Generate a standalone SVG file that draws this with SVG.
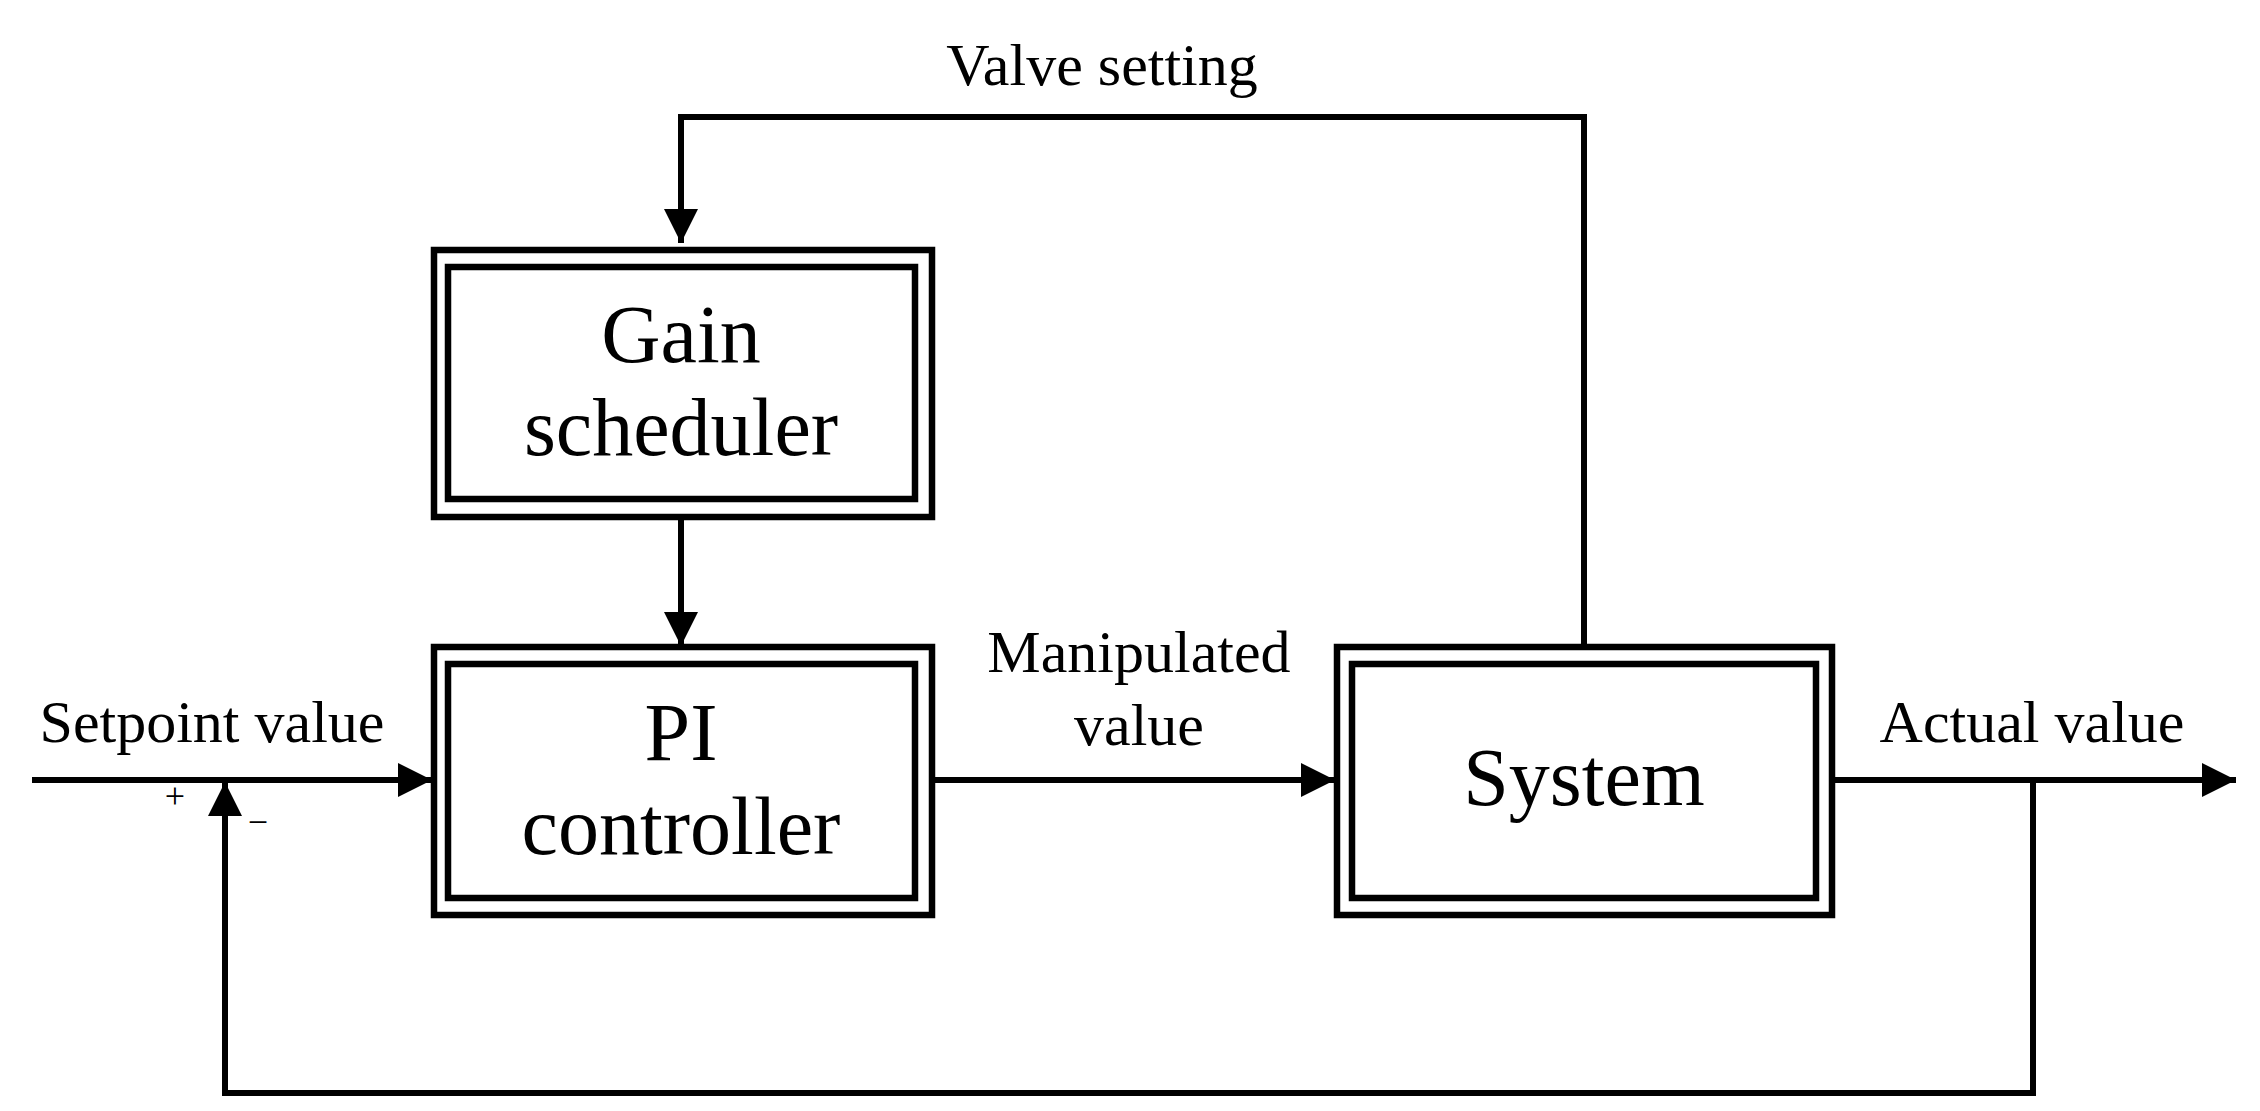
<svg xmlns="http://www.w3.org/2000/svg" width="2260" height="1111" viewBox="0 0 2260 1111">
<style>
.b{fill:none;stroke:#000;stroke-width:6.5}
.l{fill:none;stroke:#000;stroke-width:6}
text{font-family:"Liberation Serif","DejaVu Serif",serif;fill:#000}
.big{font-size:82px;text-anchor:middle}
.lab{font-size:60px}
</style>
<defs><marker id="a" markerUnits="userSpaceOnUse" markerWidth="36" markerHeight="36" refX="34" refY="17" orient="auto"><path d="M0,0 L34,17 L0,34 Z" fill="#000"/></marker></defs>
<rect width="2260" height="1111" fill="#fff"/>
<g id="gain"><rect class="b" x="434" y="250" width="498" height="267"/><rect class="b" x="448" y="267" width="467" height="232"/><text class="big" x="681" y="362">Gain</text><text class="big" x="681" y="455">scheduler</text></g>
<g id="pi"><rect class="b" x="434" y="647" width="498" height="268"/><rect class="b" x="448" y="664" width="467" height="234"/><text class="big" x="681" y="760">PI</text><text class="big" x="681" y="854">controller</text></g>
<g id="system"><rect class="b" x="1337" y="647" width="495" height="268"/><rect class="b" x="1352" y="664" width="464" height="234"/><text class="big" x="1584" y="805">System</text></g>
<g id="connectors">
<path class="l" d="M1584,647 V117 H681 V243" marker-end="url(#a)"/>
<path class="l" d="M681,517 V646" marker-end="url(#a)"/>
<path class="l" d="M32,780 H432" marker-end="url(#a)"/>
<path class="l" d="M932,780 H1335" marker-end="url(#a)"/>
<path class="l" d="M1832,780 H2236" marker-end="url(#a)"/>
<path class="l" d="M2033,780 V1093 H225 V782" marker-end="url(#a)"/>
</g>
<g id="labels">
<text class="lab" x="1102" y="85" text-anchor="middle">Valve setting</text>
<text class="lab" x="212" y="742" text-anchor="middle">Setpoint value</text>
<text class="lab" x="1139" y="672" text-anchor="middle">Manipulated</text>
<text class="lab" x="1139" y="745" text-anchor="middle">value</text>
<text class="lab" x="2032" y="742" text-anchor="middle">Actual value</text>
<text x="175" y="808" font-size="36" text-anchor="middle">+</text>
<text x="258" y="834" font-size="36" text-anchor="middle">−</text>
</g>
</svg>
